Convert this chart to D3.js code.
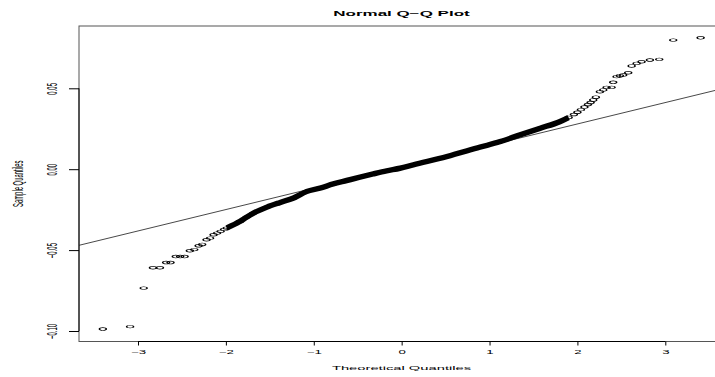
<!DOCTYPE html>
<html>
<head>
<meta charset="utf-8">
<script src="https://cdn.jsdelivr.net/npm/d3@7"></script>
<style>
  body{margin:0;background:#fff}
  text{font-family:"Liberation Sans",Arial,sans-serif;fill:#000}
</style>
</head>
<body>
<svg id="chart" width="715" height="377"></svg>
<script>
// sparse points in the tails (theoretical quantile, sample quantile)
const tailTheo = [-3.40,-3.09,-2.935,-2.83,-2.75,-2.68,-2.63,-2.57,-2.52,-2.47,-2.41,-2.36,-2.31,-2.27,-2.22,-2.18,-2.14,-2.10,-2.06,-2.02,
  1.96,2.00,2.04,2.08,2.12,2.15,2.18,2.21,2.256,2.294,2.332,2.389,2.407,2.446,2.483,2.521,2.578,2.617,2.674,2.730,2.825,2.931,3.09,3.402]
const tailSample = [-0.0988,-0.0973,-0.0735,-0.0609,-0.0609,-0.0577,-0.0577,-0.0540,-0.0540,-0.0540,-0.0504,-0.0497,-0.0473,-0.0465,-0.0436,-0.0426,-0.0405,-0.0395,-0.0384,-0.0372,
  0.0338,0.0352,0.0368,0.0384,0.0400,0.0412,0.0428,0.0445,0.0479,0.0490,0.0506,0.0506,0.0537,0.0572,0.0578,0.0582,0.0596,0.0638,0.0654,0.0664,0.0675,0.0679,0.0798,0.0812]
// dense middle part, read along the band
const coreTheo = [-1.991,-1.840,-1.763,-1.688,-1.536,-1.385,-1.233,-1.081,-0.929,-0.778,-0.626,-0.474,-0.323,-0.171,-0.019,
  0.132,0.512,0.891,1.118,1.346,1.574,1.801,1.900]
const coreSample = [-0.0364,-0.0323,-0.0296,-0.0272,-0.0235,-0.0206,-0.0179,-0.0138,-0.0117,-0.0091,-0.0070,-0.0049,-0.0029,-0.0010,0.0006,
  0.0027,0.0078,0.0136,0.0170,0.0212,0.0253,0.0294,0.0320]
// qqline
const refIntercept = 0.00151
const refSlope = 0.013225

const xTicks = [-3,-2,-1,0,1,2,3]
const yTicks = [-0.10,-0.05,0.00,0.05]
const yTickLabels = ['\u22120.10','\u22120.05','0.00','0.05']

const sx = 2.5 // the picture is stretched sideways

const svg = d3.select('#chart')
const x = d3.scaleLinear().domain([-3,3]).range([138,665.3])
const y = d3.scaleLinear().domain([-0.10,0.05]).range([331,88.3])
const box = {left:79, top:26, right:724, bottom:341.5}

const plot = svg.append('g')
plot.append('clipPath').attr('id','clip')
  .append('rect').attr('x',box.left).attr('y',box.top)
  .attr('width',box.right-box.left).attr('height',box.bottom-box.top)

// reference line
const x0 = x.invert(box.left), x1 = x.invert(box.right)
plot.append('line')
  .attr('clip-path','url(#clip)')
  .attr('x1',x(x0)).attr('y1',y(refIntercept+refSlope*x0))
  .attr('x2',x(x1)).attr('y2',y(refIntercept+refSlope*x1))
  .attr('stroke','#333').attr('stroke-width',0.9)

// dense band
const core = coreTheo.map((t,i)=>[t,coreSample[i]])
plot.append('path')
  .datum(core)
  .attr('d',d3.line().x(d=>x(d[0])).y(d=>y(d[1])).curve(d3.curveMonotoneX))
  .attr('fill','none').attr('stroke','#000').attr('stroke-width',5.5)
  .attr('stroke-linecap','butt')

const pts = core.concat(tailTheo.map((t,i)=>[t,tailSample[i]]))
plot.append('g')
  .selectAll('circle')
  .data(pts)
  .enter()
  .append('circle')
  .attr('transform',d=>'translate('+x(d[0])+','+y(d[1])+') scale('+sx+',1)')
  .attr('r',1.4)
  .attr('fill','none')
  .attr('stroke','#000')
  .attr('stroke-width',0.6)

// box
svg.append('rect')
  .attr('x',box.left).attr('y',box.top)
  .attr('width',box.right-box.left).attr('height',box.bottom-box.top)
  .attr('fill','none').attr('stroke','#555').attr('stroke-width',1)

// x axis
const gx = svg.append('g').attr('transform','translate(0,'+box.bottom+')')
  .call(d3.axisBottom(x).tickValues(xTicks).tickSize(4).tickSizeOuter(0).tickFormat(''))
gx.select('.domain').remove()
gx.selectAll('.tick line').attr('stroke','#000')
gx.append('line').attr('x1',x(xTicks[0])).attr('x2',x(xTicks[xTicks.length-1]))
  .attr('stroke','#000')
gx.selectAll('.tick').append('text')
  .attr('transform','translate(0,12) scale('+sx+',1)')
  .attr('text-anchor','middle')
  .attr('font-size',5.3)
  .text(d=>d<0?'\u2212'+Math.abs(d):d)

// y axis
const gy = svg.append('g').attr('transform','translate('+box.left+',0)')
  .call(d3.axisLeft(y).tickValues(yTicks).tickSize(10).tickSizeOuter(0).tickFormat(''))
gy.select('.domain').remove()
gy.selectAll('.tick line').attr('stroke','#000')
gy.append('line').attr('y1',y(yTicks[0])).attr('y2',y(yTicks[yTicks.length-1]))
  .attr('stroke','#000')
gy.selectAll('.tick').append('text')
  .attr('transform','translate(-22,0) scale('+sx+',1) rotate(-90)')
  .attr('text-anchor','middle')
  .attr('font-size',6)
  .text((d,i)=>yTickLabels[i])

// titles
svg.append('text')
  .attr('transform','translate('+(box.left+box.right)/2+',16) scale('+sx+',1)')
  .attr('text-anchor','middle').attr('font-size',6.8).attr('font-weight','bold')
  .text('Normal Q\u2212Q Plot')
svg.append('text')
  .attr('transform','translate('+(box.left+box.right)/2+',370) scale('+sx+',1)')
  .attr('text-anchor','middle').attr('font-size',5.9)
  .text('Theoretical Quantiles')
svg.append('text')
  .attr('transform','translate(23,'+(box.top+box.bottom)/2+') scale('+sx+',1) rotate(-90)')
  .attr('text-anchor','middle').attr('font-size',5.9)
  .text('Sample Quantiles')
</script>
</body>
</html>
